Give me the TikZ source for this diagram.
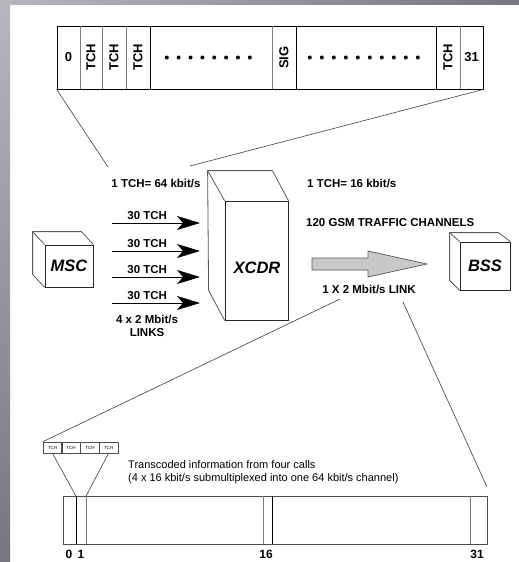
\documentclass[tikz,border=0pt]{standalone}
\usepackage{fontspec}
\setmainfont{Liberation Sans}
\usepackage{graphicx}
\usetikzlibrary{arrows.meta,calc}
\definecolor{stripL}{HTML}{B6B6BE}
\definecolor{stripD}{HTML}{76767E}
\definecolor{divgray}{HTML}{7C7C7C}
\definecolor{arrfill}{HTML}{C8C8C8}
\begin{document}
\begin{tikzpicture}[x=1pt,y=-1pt,
  lbl/.style={font=\fontsize{11.5}{13}\selectfont\bfseries, inner sep=0pt},
  txt/.style={font=\fontsize{11}{13}\selectfont, inner sep=0pt},
  celltxt/.style={font=\fontsize{13}{13}\selectfont\bfseries},
  cell/.style={minimum height=63pt, inner sep=0pt},
  bcell/.style={minimum height=48pt, inner sep=0pt},
  frame/.style={draw=black, line width=0.8pt, inner sep=0pt},
  bframe/.style={draw=black!70, line width=0.8pt, inner sep=0pt},
  face/.style={draw=black!85, line width=0.8pt, inner sep=0pt, font=\fontsize{16.5}{16.5}\selectfont\bfseries\itshape},
  cubeline/.style={draw=black!65, line width=0.8pt, line join=round},
  divb/.style={draw=black, line width=0.8pt},
  divg/.style={draw=divgray, line width=0.9pt},
  conn/.style={draw=black!75, line width=0.6pt},
  arr/.style={draw=black, line width=0.8pt, -{Stealth[length=23pt,width=14pt,inset=6pt]}},
  small/.style={draw=black!70, line width=0.5pt, minimum width=18.75pt, minimum height=11pt, inner sep=0pt, font=\fontsize{4.5}{5}\selectfont}
]
\useasboundingbox (0,0) rectangle (519,562);
\fill[white] (0,0) rectangle (519,562);
% slide frame strips
\shade[left color=stripL, right color=stripD] (0,0) rectangle (519,4);
\shade[top color=stripL, bottom color=stripD] (0,0) rectangle (10,562);

% ---------- top frame (32 time slots) ----------
\node[frame, minimum width=426pt, minimum height=63pt] (tframe) at (270,57.5) {};
\node[cell, minimum width=23pt, celltxt] (c0) at (68.5,57.5) {0};
\node[cell, minimum width=22pt, celltxt] (c1) at (91,57.5) {\rotatebox{90}{TCH}};
\node[cell, minimum width=24pt, celltxt] (c2) at (114,57.5) {\rotatebox{90}{TCH}};
\node[cell, minimum width=24pt, celltxt] (c3) at (138,57.5) {\rotatebox{90}{TCH}};
\node[cell, minimum width=122pt] (c4) at (211,57.5) {};
\node[cell, minimum width=24pt, celltxt] (c5) at (284,57.5) {\rotatebox{90}{SIG}};
\node[cell, minimum width=140pt] (c6) at (366,57.5) {};
\node[cell, minimum width=24pt, celltxt] (c7) at (448,57.5) {\rotatebox{90}{TCH}};
\node[cell, minimum width=23pt, celltxt] (c8) at (471.5,57.5) {31};
\draw[divg] (c0.north east) -- (c0.south east);
\draw[divg] (c1.north east) -- (c1.south east);
\draw[divg] (c2.north east) -- (c2.south east);
\draw[divb] (c3.north east) -- (c3.south east);
\draw[divg] (c4.north east) -- (c4.south east);
\draw[divb] (c5.north east) -- (c5.south east);
\draw[divb] (c6.north east) -- (c6.south east);
\draw[divg] (c7.north east) -- (c7.south east);
\foreach \i in {0,...,7} \fill ($(c4.west)+(17+\i*11.86,0)$) circle (2);
\foreach \i in {0,...,9} \fill ($(c6.west)+(14+\i*12,0)$) circle (2);

\coordinate (t1) at (108,167);
\coordinate (t2) at (190,166);
\draw[conn] (tframe.south west) -- (t1);
\draw[conn] (tframe.south east) -- (t2);

% ---------- labels ----------
\node[lbl] (r64) at (156,183) {1 TCH= 64 kbit/s};
\node[lbl, anchor=west] (r16) at (307,183) {1 TCH= 16 kbit/s};
\node[lbl, anchor=west] (gsm) at (306,223) {120 GSM TRAFFIC CHANNELS};

% ---------- MSC cube ----------
\node[face, minimum width=48pt, minimum height=42pt] (msc) at (69,266) {MSC};
\draw[cubeline] (msc.south west) -- ++(-12,-13) -- ($(msc.north west)+(-12,-13)$)
  -- ($(msc.north east)+(-12,-13)$) -- (msc.north east);
\draw[cubeline] (msc.north west) -- ++(-12,-13);

% ---------- XCDR cube ----------
\node[face, minimum width=63pt, minimum height=119pt] (xcdr) at (256.5,260.5) {};
\node[face, draw=none] (xcdrlbl) at (257,268) {XCDR};
\draw[cubeline] (xcdr.south west) -- ++(-16,-30) -- ($(xcdr.north west)+(-17,-30)$)
  -- ($(xcdr.north east)+(-16,-30)$) -- (xcdr.north east);
\draw[cubeline] (xcdr.north west) -- ++(-17,-30);

% ---------- BSS cube ----------
\node[face, minimum width=50pt, minimum height=48pt] (bss) at (485,266) {BSS};
\draw[cubeline] (bss.south west) -- ++(-10,-10) -- ($(bss.north west)+(-10,-9)$)
  -- ($(bss.north east)+(-12,-9)$) -- (bss.north east);
\draw[cubeline] (bss.north west) -- ++(-10,-9);

% ---------- four 2 Mbit/s links ----------
\foreach \k/\y in {1/223,2/251,3/277,4/303}{
  \coordinate (m\k) at (112,\y);
  \coordinate (x\k) at (200,\y);
  \draw[arr] (m\k) -- node[lbl, pos=0.4, above=3pt] (lab\k) {30 TCH} (x\k);
}
\node[lbl, align=center] (links) at (147,325.5) {4 x 2 Mbit/s\\LINKS};

% ---------- gray arrow ----------
\coordinate (g1) at (312,258);
\coordinate (g2) at (427,264);
\draw[fill=arrfill, draw=black!65, line width=0.7pt, line join=miter]
  (g1) -- (368,258) -- (368,251) -- (g2) -- (368,277) -- (368,270) -- (312,270) -- cycle;
\node[lbl] (link) at (369,289) {1 X 2 Mbit/s LINK};

% ---------- bottom frame ----------
\node[small] (s1) at (52.4,447.5) {TCH};
\node[small] (s2) at (71.1,447.5) {TCH};
\node[small] (s3) at (89.9,447.5) {TCH};
\node[small] (s4) at (108.6,447.5) {TCH};

\node[bframe, minimum width=424pt, minimum height=48pt] (bfr) at (275,520) {};
\node[bcell, minimum width=13pt] (b0) at (69.5,520) {};
\node[bcell, minimum width=10pt] (b1) at (81,520) {};
\node[bcell, minimum width=177pt] (b2) at (174.5,520) {};
\node[bcell, minimum width=9pt] (b3) at (267.5,520) {};
\node[bcell, minimum width=198pt] (b4) at (371,520) {};
\node[bcell, minimum width=17pt] (b5) at (478.5,520) {};
\draw[divb] (b0.north east) -- (b0.south east);
\draw[divg] (b1.north east) -- (b1.south east);
\draw[divg] (b2.north east) -- (b2.south east);
\draw[divb] (b3.north east) -- (b3.south east);
\draw[divg] (b4.north east) -- (b4.south east);

\coordinate (l1) at (340,299);
\coordinate (l2) at (403,302);
\coordinate (l3) at (487,487);
\draw[conn] (l1) -- (s1.north west);
\draw[conn] (l2) -- (l3);
\draw[conn] (s1.south) -- (b1.north west);
\draw[conn] (s4.south) -- (b1.north east);

\node[txt, align=left, anchor=west] (trans) at (128,472.5) {Transcoded information from four calls\\(4 x 16 kbit/s submultiplexed into one 64 kbit/s channel)};

\node[lbl, font=\fontsize{12}{12}\selectfont\bfseries] (n0) at (69,554) {0};
\node[lbl, font=\fontsize{12}{12}\selectfont\bfseries] (n1) at (81,554) {1};
\node[lbl, font=\fontsize{12}{12}\selectfont\bfseries] (n16) at (266,554) {16};
\node[lbl, font=\fontsize{12}{12}\selectfont\bfseries] (n31) at (477,554) {31};
\end{tikzpicture}
\end{document}
